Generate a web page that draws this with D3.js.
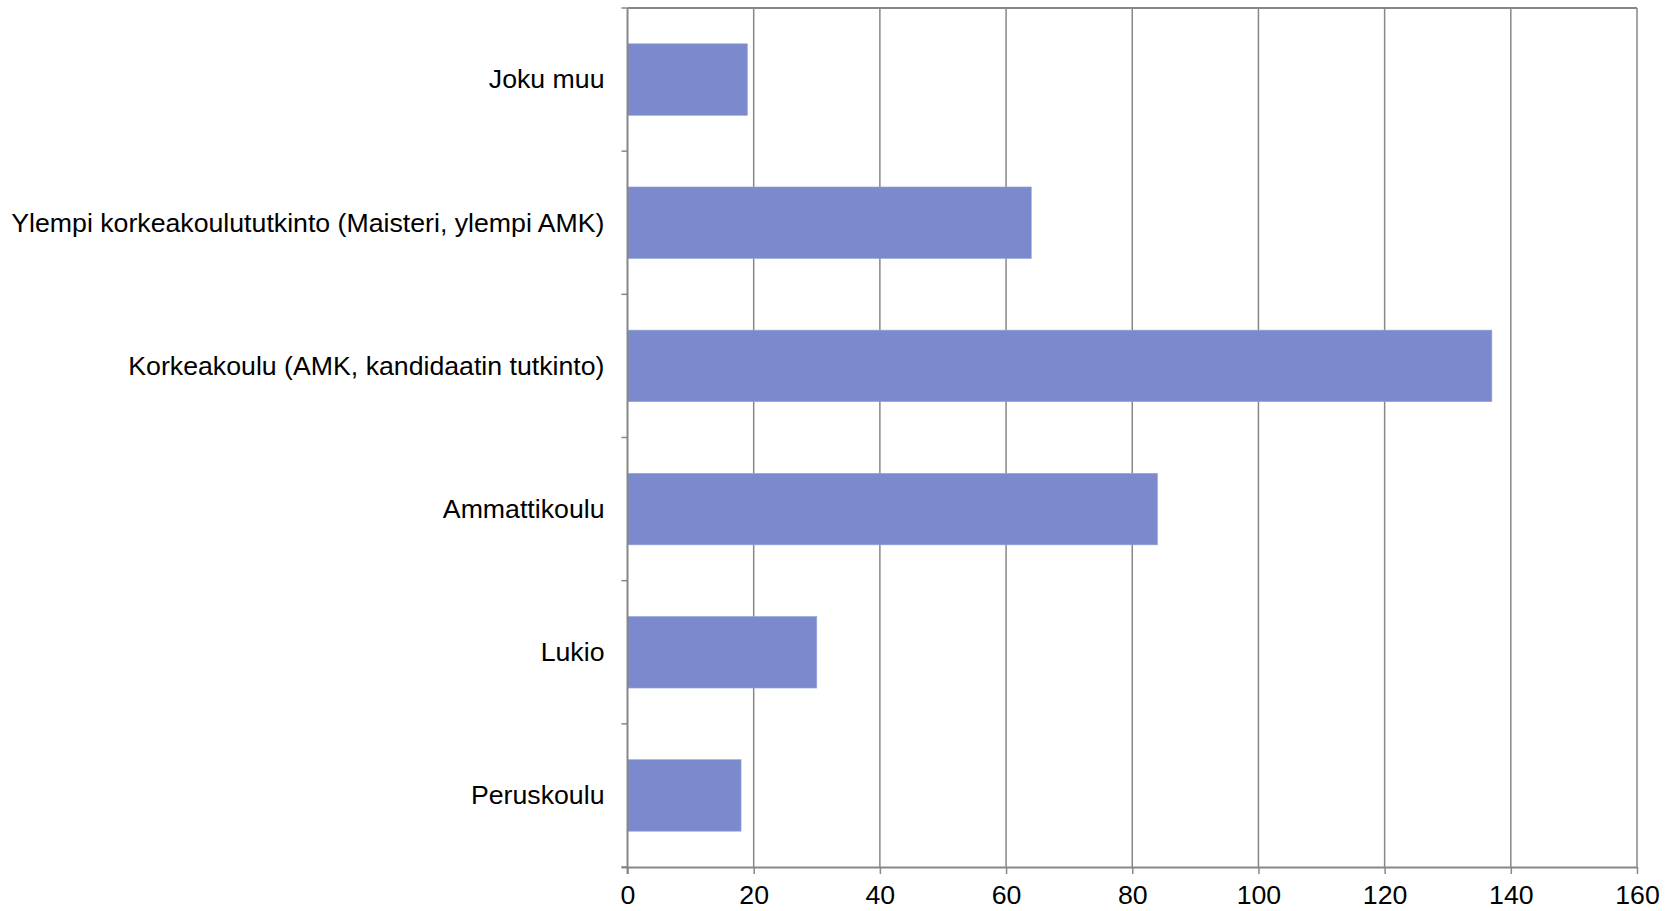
<!DOCTYPE html>
<html>
<head>
<meta charset="utf-8">
<script src="https://cdn.jsdelivr.net/npm/d3@7"></script>
<style>
  html, body { margin: 0; padding: 0; background: #ffffff; }
  svg text { font-family: "Liberation Sans", Arial, sans-serif; fill: #000; }
</style>
</head>
<body>
<svg id="chart" width="1673" height="911"></svg>
<script>
// Education level of respondents (top to bottom)
const categories = [
  "Joku muu",
  "Ylempi korkeakoulututkinto (Maisteri, ylempi AMK)",
  "Korkeakoulu (AMK, kandidaatin tutkinto)",
  "Ammattikoulu",
  "Lukio",
  "Peruskoulu"
];
const counts = [19, 64, 137, 84, 30, 18];
const xTicks = [0, 20, 40, 60, 80, 100, 120, 140, 160];

const margin = { top: 8, right: 36, bottom: 44, left: 627.5 };
const W = 1673, H = 911;
const fontSize = 26.7;
const svg = d3.select("#chart");

const x = d3.scaleLinear().domain([0, 160]).range([margin.left, W - margin.right]);
const y = d3.scaleBand().domain(categories).range([margin.top, H - margin.bottom])
  .paddingInner(0.5).paddingOuter(0.25);

const gridColor = "#878787";

// vertical gridlines
svg.append("g").selectAll("line").data(xTicks.slice(1)).join("line")
  .attr("x1", d => x(d)).attr("x2", d => x(d))
  .attr("y1", margin.top).attr("y2", H - margin.bottom)
  .attr("stroke", gridColor).attr("stroke-width", 1.5);

// top border
svg.append("line")
  .attr("x1", margin.left).attr("x2", x(160))
  .attr("y1", margin.top).attr("y2", margin.top)
  .attr("stroke", gridColor).attr("stroke-width", 2);

// bars
svg.append("g").selectAll("rect").data(categories).join("rect")
  .attr("x", x(0))
  .attr("y", d => y(d))
  .attr("width", (d, i) => x(counts[i]) - x(0))
  .attr("height", y.bandwidth())
  .attr("fill", "#7a8acc")
  .attr("stroke", "#9aa8e0").attr("stroke-width", 0.6);

// bottom axis
const xAxis = d3.axisBottom(x).tickValues(xTicks).tickSize(7).tickPadding(11.5);
const gx = svg.append("g").attr("transform", `translate(0,${H - margin.bottom})`).call(xAxis);
gx.select(".domain").attr("stroke", gridColor).attr("stroke-width", 2)
  .attr("d", `M${margin.left - 6},0.5H${x(160)}`);
gx.selectAll(".tick line").attr("stroke", gridColor).attr("stroke-width", 1.5);
gx.selectAll(".tick text").attr("font-size", fontSize)
  .attr("font-family", "Liberation Sans, Arial, sans-serif").attr("fill", "#000");

// left axis: ticks at category boundaries
const step = y.step();
const boundaries = d3.range(categories.length + 1).map(i => margin.top + i * step);
const gy = svg.append("g");
gy.append("line")
  .attr("x1", margin.left).attr("x2", margin.left)
  .attr("y1", margin.top).attr("y2", H - margin.bottom + 7)
  .attr("stroke", gridColor).attr("stroke-width", 2);
gy.selectAll("line.tk").data(boundaries).join("line").attr("class", "tk")
  .attr("x1", margin.left - 6).attr("x2", margin.left)
  .attr("y1", d => d).attr("y2", d => d)
  .attr("stroke", gridColor).attr("stroke-width", 1.5);

// category labels
svg.append("g").selectAll("text").data(categories).join("text")
  .attr("x", margin.left - 23)
  .attr("y", d => y(d) + y.bandwidth() / 2)
  .attr("dy", "0.33em")
  .attr("text-anchor", "end")
  .attr("font-size", fontSize)
  .text(d => d);
</script>
</body>
</html>
